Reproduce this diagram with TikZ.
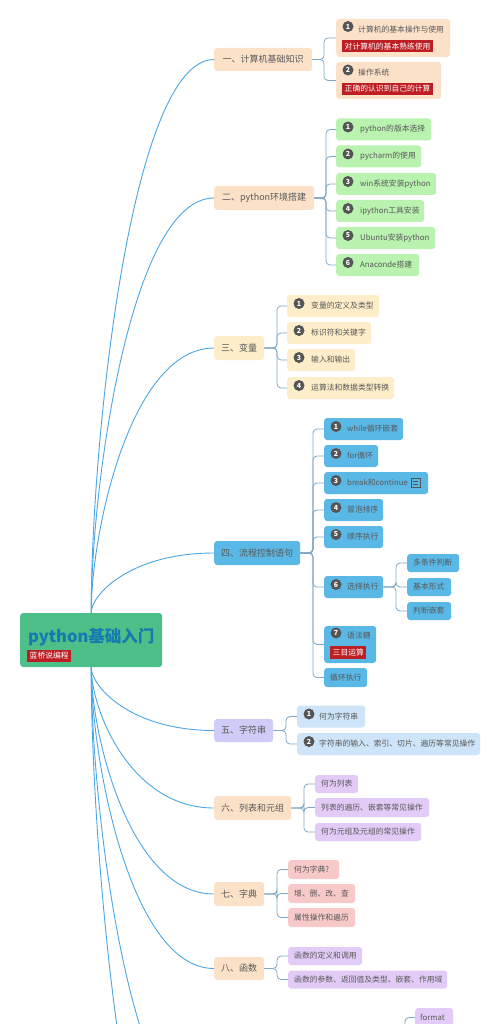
\documentclass[tikz,border=0pt]{standalone}
\usepackage{fontspec}
\setmainfont{Noto Sans CJK SC}
\usetikzlibrary{calc}
\definecolor{peach}{RGB}{252,225,201}
\definecolor{cream}{RGB}{253,237,200}
\definecolor{leafgreen}{RGB}{186,242,176}
\definecolor{skyblue}{RGB}{90,184,230}
\definecolor{lavender}{RGB}{207,204,247}
\definecolor{paleblue}{RGB}{206,228,248}
\definecolor{lilac}{RGB}{226,203,246}
\definecolor{pinkish}{RGB}{248,201,201}
\definecolor{rootgreen}{RGB}{78,191,137}
\definecolor{titleblue}{RGB}{20,122,176}
\definecolor{tagred}{RGB}{188,30,36}
\definecolor{txt}{RGB}{88,88,88}
\definecolor{numgray}{RGB}{85,85,85}
\definecolor{rootline}{RGB}{76,166,228}
\definecolor{subline}{RGB}{128,168,198}
\newcommand\bx[3]{\makebox[#1pt][l]{\hspace*{#2pt}#3}}
\newcommand\lfont{\fontsize{7.8}{9}\selectfont}
\newcommand\bfontx{\fontsize{9}{11}\selectfont}
\newcommand\rtag[1]{{\setlength\fboxsep{2.5pt}\colorbox{tagred}{\color{white}#1}}}
\newcommand\twoline[7]{\vbox to #2pt{\offinterlineskip\vskip #3pt\hbox to #1pt{\hspace*{#4pt}#5\hss}\vskip #6pt\hbox to #1pt{\hspace*{6pt}\rtag{#7}\hss}\vfill}}
\begin{document}
\begin{tikzpicture}[x=1pt,y=-1pt,
  br/.style={anchor=west, rounded corners=3pt, inner sep=0pt, text=txt, font=\bfontx},
  lf/.style={anchor=west, rounded corners=3pt, inner sep=0pt, text=txt, font=\lfont},
  numc/.style={circle, fill=numgray, text=white, inner sep=0pt, minimum size=11pt, font=\fontsize{7}{7}\selectfont\bfseries},
  rootln/.style={draw=rootline, line width=0.9pt},
  subln/.style={draw=subline, line width=0.8pt, rounded corners=4pt}]
\useasboundingbox (0,0) rectangle (500,1024);
\fill[white] (0,0) rectangle (500,1024);
\clip (0,0) rectangle (500,1024);

% root
\node[anchor=west, fill=rootgreen, rounded corners=3pt, inner sep=0pt] (root) at (20,640)
  {\vbox to 54pt{\offinterlineskip\vskip 15pt\hbox to 142pt{\hspace*{8pt}{\fontsize{16.5}{18}\selectfont\bfseries\color{titleblue}python基础入门}\hss}\vskip 4pt\hbox to 142pt{\hspace*{7pt}\lfont\rtag{蓝桥说编程}\hss}\vfill}};

% branches
\node[br, fill=peach, minimum width=98pt, minimum height=23pt] (b1) at (214,59.5) {一、计算机基础知识};
\node[br, fill=peach, minimum width=100pt, minimum height=24pt] (b2) at (214,198) {二、python环境搭建};
\node[br, fill=cream, minimum width=50pt, minimum height=24pt] (b3) at (214,348) {三、变量};
\node[br, fill=skyblue, minimum width=86pt, minimum height=24pt] (b4) at (214,553) {四、流程控制语句};
\node[br, fill=lavender, minimum width=59pt, minimum height=23pt] (b5) at (214,730.5) {五、字符串};
\node[br, fill=peach, minimum width=77pt, minimum height=24pt] (b6) at (214,808) {六、列表和元组};
\node[br, fill=peach, minimum width=50pt, minimum height=24pt] (b7) at (214,894) {七、字典};
\node[br, fill=peach, minimum width=50pt, minimum height=23pt] (b8) at (214,968.5) {八、函数};
\coordinate (b9) at (214,1130);
\coordinate (b10) at (214,1300);

% root links
\draw[rootln] (root.north) .. controls (91,447) and (130,59.5) .. (b1.west);
\draw[rootln] (root.north) .. controls (91,489) and (130,198) .. (b2.west);
\draw[rootln] (root.north) .. controls (91,534) and (130,348) .. (b3.west);
\draw[rootln] (root.north) .. controls (91,595) and (130,553) .. (b4.west);
\draw[rootln] (root.south) .. controls (91,686) and (130,730.5) .. (b5.west);
\draw[rootln] (root.south) .. controls (91,709) and (130,808) .. (b6.west);
\draw[rootln] (root.south) .. controls (91,735) and (130,894) .. (b7.west);
\draw[rootln] (root.south) .. controls (91,757) and (130,968.5) .. (b8.west);
\draw[rootln] (root.south) .. controls (91,806) and (130,1130) .. (b9);
\draw[rootln] (root.south) .. controls (91,857) and (130,1300) .. (b10);

% branch 1
\node[lf, fill=peach] (c11) at (336,38) {\twoline{114}{38}{7}{22}{计算机的基本操作与使用}{6.8}{对计算机的基本熟练使用}};
\node[numc] (n11) at (348,26.5) {1};
\node[lf, fill=peach] (c12) at (336,80.5) {\twoline{105}{37}{7}{22}{操作系统}{6.3}{正确的认识到自己的计算}};
\node[numc] (n12) at (348,70) {2};
\coordinate (k1) at (324,59.5);
\foreach \c in {c11,c12} \draw[subln] (b1.east) -- (k1) |- (\c.west);

% branch 2
\node[lf, fill=leafgreen, minimum height=22pt] (c21) at (336,129.5) {\bx{95}{24}{python的版本选择}};
\node[lf, fill=leafgreen, minimum height=22pt] (c22) at (336,156.5) {\bx{85}{24}{pycharm的使用}};
\node[lf, fill=leafgreen, minimum height=22pt] (c23) at (336,184) {\bx{100}{24}{win系统安装python}};
\node[lf, fill=leafgreen, minimum height=22pt] (c24) at (336,211) {\bx{88}{24}{ipython工具安装}};
\node[lf, fill=leafgreen, minimum height=22pt] (c25) at (336,238) {\bx{99}{24}{Ubuntu安装python}};
\node[lf, fill=leafgreen, minimum height=22pt] (c26) at (336,265) {\bx{83}{24}{Anaconde搭建}};
\node[numc] (n21) at (348,127) {1};
\node[numc] (n22) at (348,154) {2};
\node[numc] (n23) at (348,181.5) {3};
\node[numc] (n24) at (348,208.5) {4};
\node[numc] (n25) at (348,235.5) {5};
\node[numc] (n26) at (348,262.5) {6};
\coordinate (k2) at (326,198);
\foreach \c in {c21,c22,c23,c24,c25,c26} \draw[subln] (b2.east) -- (k2) |- (\c.west);

% branch 3
\node[lf, fill=cream, minimum height=22pt] (c31) at (287,306) {\bx{92}{24}{变量的定义及类型}};
\node[lf, fill=cream, minimum height=22pt] (c32) at (287,333) {\bx{84}{24}{标识符和关键字}};
\node[lf, fill=cream, minimum height=22pt] (c33) at (287,360) {\bx{68}{24}{输入和输出}};
\node[lf, fill=cream, minimum height=22pt] (c34) at (287,388) {\bx{107}{24}{运算法和数据类型转换}};
\node[numc] (n31) at (299,303.5) {1};
\node[numc] (n32) at (299,330.5) {2};
\node[numc] (n33) at (299,357.5) {3};
\node[numc] (n34) at (299,385.5) {4};
\coordinate (k3) at (277,348);
\foreach \c in {c31,c32,c33,c34} \draw[subln] (b3.east) -- (k3) |- (\c.west);

% branch 4
\node[lf, fill=skyblue, minimum height=22pt] (c41) at (324,429) {\bx{79}{23}{while循环嵌套}};
\node[lf, fill=skyblue, minimum height=22pt] (c42) at (324,456) {\bx{54}{23}{for循环}};
\node[lf, fill=skyblue, minimum height=22pt] (c43) at (324,483) {\bx{104}{23}{break和continue}};
\node[lf, fill=skyblue, minimum height=22pt] (c44) at (324,510) {\bx{59}{23}{冒泡排序}};
\node[lf, fill=skyblue, minimum height=22pt] (c45) at (324,537) {\bx{59}{23}{顺序执行}};
\node[lf, fill=skyblue, minimum height=22pt] (c46) at (324,587) {\bx{59}{23}{选择执行}};
\node[lf, fill=skyblue] (c47) at (324,644.5) {\twoline{52}{37}{6.2}{23}{语法糖}{7}{三目运算}};
\node[lf, fill=skyblue, minimum height=19pt] (c48) at (324,677.5) {\bx{43}{6}{循环执行}};
\node[numc] (n41) at (336,426.5) {1};
\node[numc] (n42) at (336,453.5) {2};
\node[numc] (n43) at (336,480.5) {3};
\node[numc] (n44) at (336,507.5) {4};
\node[numc] (n45) at (336,534.5) {5};
\node[numc] (n46) at (336,584.5) {6};
\node[numc] (n47) at (336,633) {7};
\draw[numgray, line width=0.6pt] ($(c43.east)+(-17,-4.5)$) rectangle ($(c43.east)+(-8,4.5)$);
\draw[numgray, line width=0.5pt] ($(c43.east)+(-15,-1.5)$) -- ++(5,0) ($(c43.east)+(-15,1)$) -- ++(5,0);
\coordinate (k4) at (313,553);
\foreach \c in {c41,c42,c43,c44,c45,c46,c47,c48} \draw[subln] (b4.east) -- (k4) |- (\c.west);

\node[lf, fill=skyblue, minimum height=18pt] (c461) at (407,563) {\bx{52}{6}{多条件判断}};
\node[lf, fill=skyblue, minimum height=18pt] (c462) at (407,587) {\bx{44}{6}{基本形式}};
\node[lf, fill=skyblue, minimum height=18pt] (c463) at (407,611) {\bx{44}{6}{判断嵌套}};
\coordinate (k46) at (396,587);
\foreach \c in {c461,c462,c463} \draw[subln] (c46.east) -- (k46) |- (\c.west);

% branch 5
\node[lf, fill=paleblue, minimum height=22pt] (c51) at (297,716.5) {\bx{68}{22}{何为字符串}};
\node[lf, fill=paleblue, minimum height=22pt] (c52) at (297,744) {\bx{183}{22}{字符串的输入、索引、切片、遍历等常见操作}};
\node[numc] (n51) at (309,714) {1};
\node[numc] (n52) at (309,741.5) {2};
\coordinate (k5) at (286,730.5);
\foreach \c in {c51,c52} \draw[subln] (b5.east) -- (k5) |- (\c.west);

% branch 6
\node[lf, fill=lilac, minimum height=18pt] (c61) at (315,784) {\bx{43}{6}{何为列表}};
\node[lf, fill=lilac, minimum height=19pt] (c62) at (315,807.5) {\bx{114}{6}{列表的遍历、嵌套等常见操作}};
\node[lf, fill=lilac, minimum height=18pt] (c63) at (315,832) {\bx{106}{6}{何为元组及元组的常见操作}};
\coordinate (k6) at (304,808);
\foreach \c in {c61,c62,c63} \draw[subln] (b6.east) -- (k6) |- (\c.west);

% branch 7
\node[lf, fill=pinkish, minimum height=19pt] (c71) at (288,869.5) {\bx{51}{6}{何为字典?}};
\node[lf, fill=pinkish, minimum height=19pt] (c72) at (288,893.5) {\bx{67}{6}{增、删、改、查}};
\node[lf, fill=pinkish, minimum height=19pt] (c73) at (288,917.5) {\bx{67}{6}{属性操作和遍历}};
\coordinate (k7) at (277,894);
\foreach \c in {c71,c72,c73} \draw[subln] (b7.east) -- (k7) |- (\c.west);

% branch 8
\node[lf, fill=lilac, minimum height=18pt] (c81) at (288,956) {\bx{74}{6}{函数的定义和调用}};
\node[lf, fill=lilac, minimum height=18pt] (c82) at (288,979.5) {\bx{159}{6}{函数的参数、返回值及类型、嵌套、作用域}};
\coordinate (k8) at (277,968.5);
\foreach \c in {c81,c82} \draw[subln] (b8.east) -- (k8) |- (\c.west);

% partly visible child below
\node[lf, fill=lilac, minimum height=19pt] (c91) at (415,1017.5) {\bx{38}{5}{format}};
\coordinate (k9) at (405,1060);
\draw[subln] (k9) |- (c91.west);
\end{tikzpicture}
\end{document}
